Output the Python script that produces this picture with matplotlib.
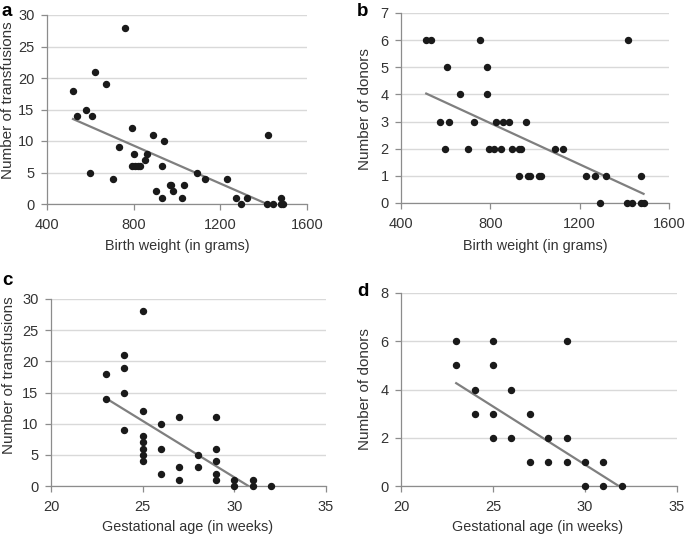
import numpy as np
import matplotlib
matplotlib.use("Agg")
import matplotlib.pyplot as plt

plt.rcParams['font.family'] = ['Liberation Sans', 'DejaVu Sans']

# panel a: birth weight vs transfusions
bw_a = [520, 540, 580, 610, 620, 600, 670, 705, 730, 760, 790, 790, 800, 808, 820, 831,
        850, 861, 890, 901, 932, 932, 941, 968, 972, 981, 1022, 1031, 1093, 1130, 1232,
        1270, 1295, 1321, 1415, 1421, 1441, 1481, 1481, 1490]
tr_a = [18, 14, 15, 14, 21, 5, 19, 4, 9, 28, 12, 6, 8, 6, 6, 6,
        7, 8, 11, 2, 6, 1, 10, 3, 3, 2, 1, 3, 5, 4, 4,
        1, 0, 1, 0, 11, 0, 1, 0, 0]
fit_a = (-0.01507, 21.33)

# panel b: birth weight vs donors
bw_b = [513, 534, 605, 574, 616, 595, 666, 701, 726, 754, 786, 786, 795, 817, 826, 847,
        857, 885, 896, 927, 927, 938, 961, 970, 979, 1016, 1027, 1088, 1126, 1228, 1268,
        1292, 1318, 1414, 1417, 1436, 1475, 1475, 1486]
dn_b = [6, 6, 5, 3, 3, 2, 4, 2, 3, 6, 5, 4, 2, 2, 3, 2,
        3, 3, 2, 1, 2, 2, 3, 1, 1, 1, 1, 2, 2, 1, 1,
        0, 1, 0, 6, 0, 1, 0, 0]
fit_b = (-0.003797, 5.98)

# panel c: gestational age vs transfusions
ga_c = [23, 23, 24, 24, 24, 24, 25, 25, 25, 25, 25, 25, 25, 26, 26, 26,
        27, 27, 27, 28, 28, 29, 29, 29, 29, 29, 30, 30, 31, 31, 32]
tr_c = [18, 14, 21, 19, 15, 9, 28, 12, 8, 7, 6, 5, 4, 10, 6, 2,
        11, 3, 1, 5, 3, 11, 6, 4, 2, 1, 1, 0, 1, 0, 0]
fit_c = (-1.811, 55.72)

# panel d: gestational age vs donors
ga_d = [23, 23, 24, 24, 25, 25, 25, 25, 26, 26, 27, 27, 28, 28, 29, 29, 29,
        30, 30, 31, 31, 32]
dn_d = [6, 5, 4, 3, 6, 5, 3, 2, 4, 2, 3, 1, 2, 1, 6, 2, 1,
        1, 0, 1, 0, 0]
fit_d = (-0.4825, 15.36)

W, H = 685, 534
fig = plt.figure(figsize=(W / 100, H / 100), dpi=100)
txt = '#333333'


def ftext(x, y, s, **kw):
    # place text using pixel coords from the top-left corner
    fig.text(x / W, 1 - y / H, s, ha='center', va='center', color=txt, **kw)


def panel(rect, x, y, fit, xlim, xticks, ylim, yticks, xlabel, ylabel,
          letter, lpos, xlpos, ylpos):
    l, t, r, b = rect
    ax = fig.add_axes([l / W, 1 - b / H, (r - l) / W, (b - t) / H])
    ax.set_xlim(*xlim)
    ax.set_ylim(*ylim)
    ax.set_xticks(xticks)
    ax.set_yticks(yticks)
    ax.grid(axis='y', color='#d9d9d9', lw=1)
    ax.set_axisbelow(True)
    for s in ['top', 'right']:
        ax.spines[s].set_visible(False)
    for s in ['left', 'bottom']:
        ax.spines[s].set_color('#8c8c8c')
        ax.spines[s].set_linewidth(0.9)
    ax.tick_params(colors='#8c8c8c', length=4, width=0.9, labelsize=10.5,
                   labelcolor=txt)
    ax.tick_params(axis='x', pad=6)
    ax.tick_params(axis='y', pad=5)
    # trend line, clipped at zero
    x0 = min(x)
    x1 = min(max(x), -fit[1] / fit[0])
    xs = np.array([x0, x1])
    ax.plot(xs, fit[0] * xs + fit[1], color='#7f7f7f', lw=1.6, zorder=2)
    ax.plot(x, y, 'o', color='#1a1a1a', ms=4.3, mec='#1a1a1a', clip_on=False, zorder=3)
    ftext(*xlpos, xlabel, fontsize=10.4)
    ftext(*ylpos, ylabel, fontsize=11, rotation=90)
    # panel letter, positioned by its baseline
    fig.text(lpos[0] / W, 1 - lpos[1] / H, letter, fontsize=13.5, fontweight='bold',
             va='baseline', ha='left', color='black')
    return ax


panel((47, 15, 307, 204), bw_a, tr_a, fit_a, (400, 1600), [400, 800, 1200, 1600],
      (0, 30), range(0, 31, 5), 'Birth weight (in grams)', 'Number of transfusions',
      'a', (1, 16), (177, 246), (8, 100))
panel((401, 13, 669, 203), bw_b, dn_b, fit_b, (400, 1600), [400, 800, 1200, 1600],
      (0, 7), range(0, 8), 'Birth weight (in grams)', 'Number of donors',
      'b', (357, 16), (535, 246), (365, 109))
panel((51, 299, 326, 486), ga_c, tr_c, fit_c, (20, 35), [20, 25, 30, 35],
      (0, 30), range(0, 31, 5), 'Gestational age (in weeks)', 'Number of transfusions',
      'c', (2, 285), (188, 527), (9, 375))
panel((401, 293, 677, 486), ga_d, dn_d, fit_d, (20, 35), [20, 25, 30, 35],
      (0, 8), range(0, 9, 2), 'Gestational age (in weeks)', 'Number of donors',
      'd', (357, 296), (538, 527), (365, 389))

fig.savefig('out.png', dpi=100)
